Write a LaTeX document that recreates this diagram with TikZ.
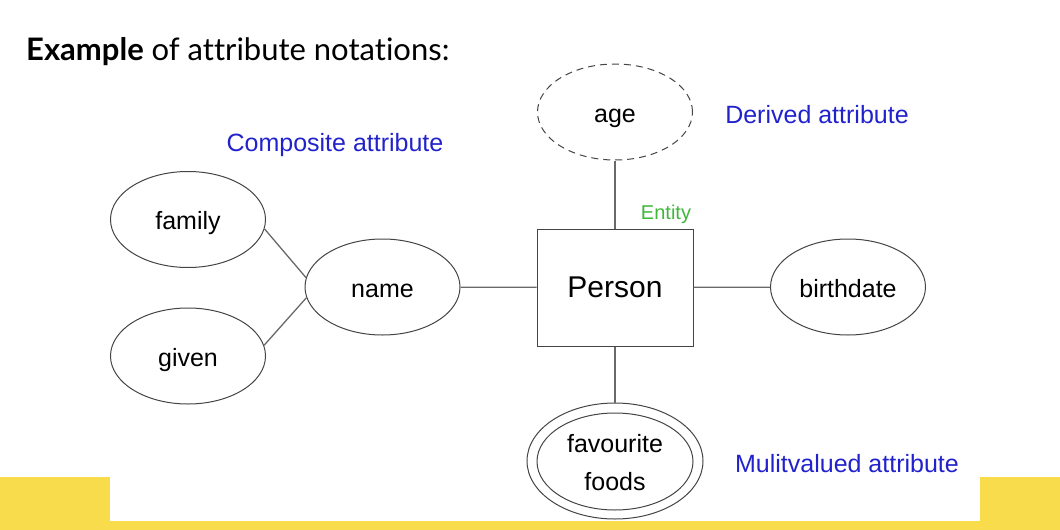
\documentclass[tikz,border=0pt]{standalone}
\usepackage{fontspec}
\setmainfont{Liberation Sans}
\newfontfamily\lato[Ligatures=CommonOff]{Lato}
\usetikzlibrary{shapes.geometric}
\definecolor{ylw}{HTML}{F9DC4C}
\definecolor{lblblue}{HTML}{2222CC}
\definecolor{entgreen}{HTML}{3DB83A}
\definecolor{edge}{HTML}{444444}
\begin{document}
\begin{tikzpicture}[x=1pt,y=-1pt,
  attr/.style={ellipse,draw=edge,line width=1pt,minimum width=155pt,minimum height=96pt,inner sep=0pt,text height=20pt,text depth=0pt,font=\fontsize{25}{30}\selectfont},
  entbox/.style={rectangle,draw=edge,line width=1pt,minimum width=156pt,minimum height=117pt,inner sep=0pt,text height=19pt,text depth=0pt,font=\fontsize{30}{36}\selectfont},
  conn/.style={draw=edge!80,line width=1.3pt},
  intext/.style={anchor=base,inner sep=0pt,font=\fontsize{25}{30}\selectfont},
  note/.style={text=lblblue,font=\fontsize{25}{30}\selectfont,inner sep=0pt,anchor=base}]
\useasboundingbox (0,0) rectangle (1060,530);
\fill[ylw] (0,477) rectangle (110,530);
\fill[ylw] (980,477) rectangle (1060,530);
\fill[ylw] (0,521) rectangle (1060,530);
\node[anchor=base west,inner sep=0pt,font=\lato\fontsize{31}{36}\selectfont] (title) at (26,60.5) {\textbf{Example} of attribute notations:};
\node[entbox] (person) at (615,287.5) {Person};
\node[attr,dashed,dash pattern=on 7pt off 5pt] (age) at (615,112) {age};
\node[attr] (name) at (382.5,287) {name};
\node[attr] (family) at (188,219.5) {family};
\node[attr] (given) at (188,356) {given};
\node[attr] (birth) at (848,287) {birthdate};
\node[ellipse,draw=edge,line width=1pt,minimum width=156pt,minimum height=97pt,inner sep=0pt] (fav) at (615,461.5) {};
\node[ellipse,draw=edge,line width=1pt,minimum width=176pt,minimum height=116pt,inner sep=0pt] (favout) at (615,461) {};
\node[intext] (fav1) at (615,452) {favourite};
\node[intext] (fav2) at (615,490) {foods};
\node[text=entgreen,font=\fontsize{20}{24}\selectfont,anchor=base,inner sep=0pt] (entl) at (666,219) {Entity};
\node[note] (comp) at (335,151) {Composite attribute};
\node[note] (der) at (817,123) {Derived attribute};
\node[note] (multi) at (847,472) {Mulitvalued attribute};
\draw[conn] (age) -- (person);
\draw[conn] (person) -- (favout);
\draw[conn] (name) -- (person);
\draw[conn] (person) -- (birth);
\draw[conn] (family.-7) -- (name.173);
\draw[conn] (given.8) -- (name.188);
\end{tikzpicture}
\end{document}
